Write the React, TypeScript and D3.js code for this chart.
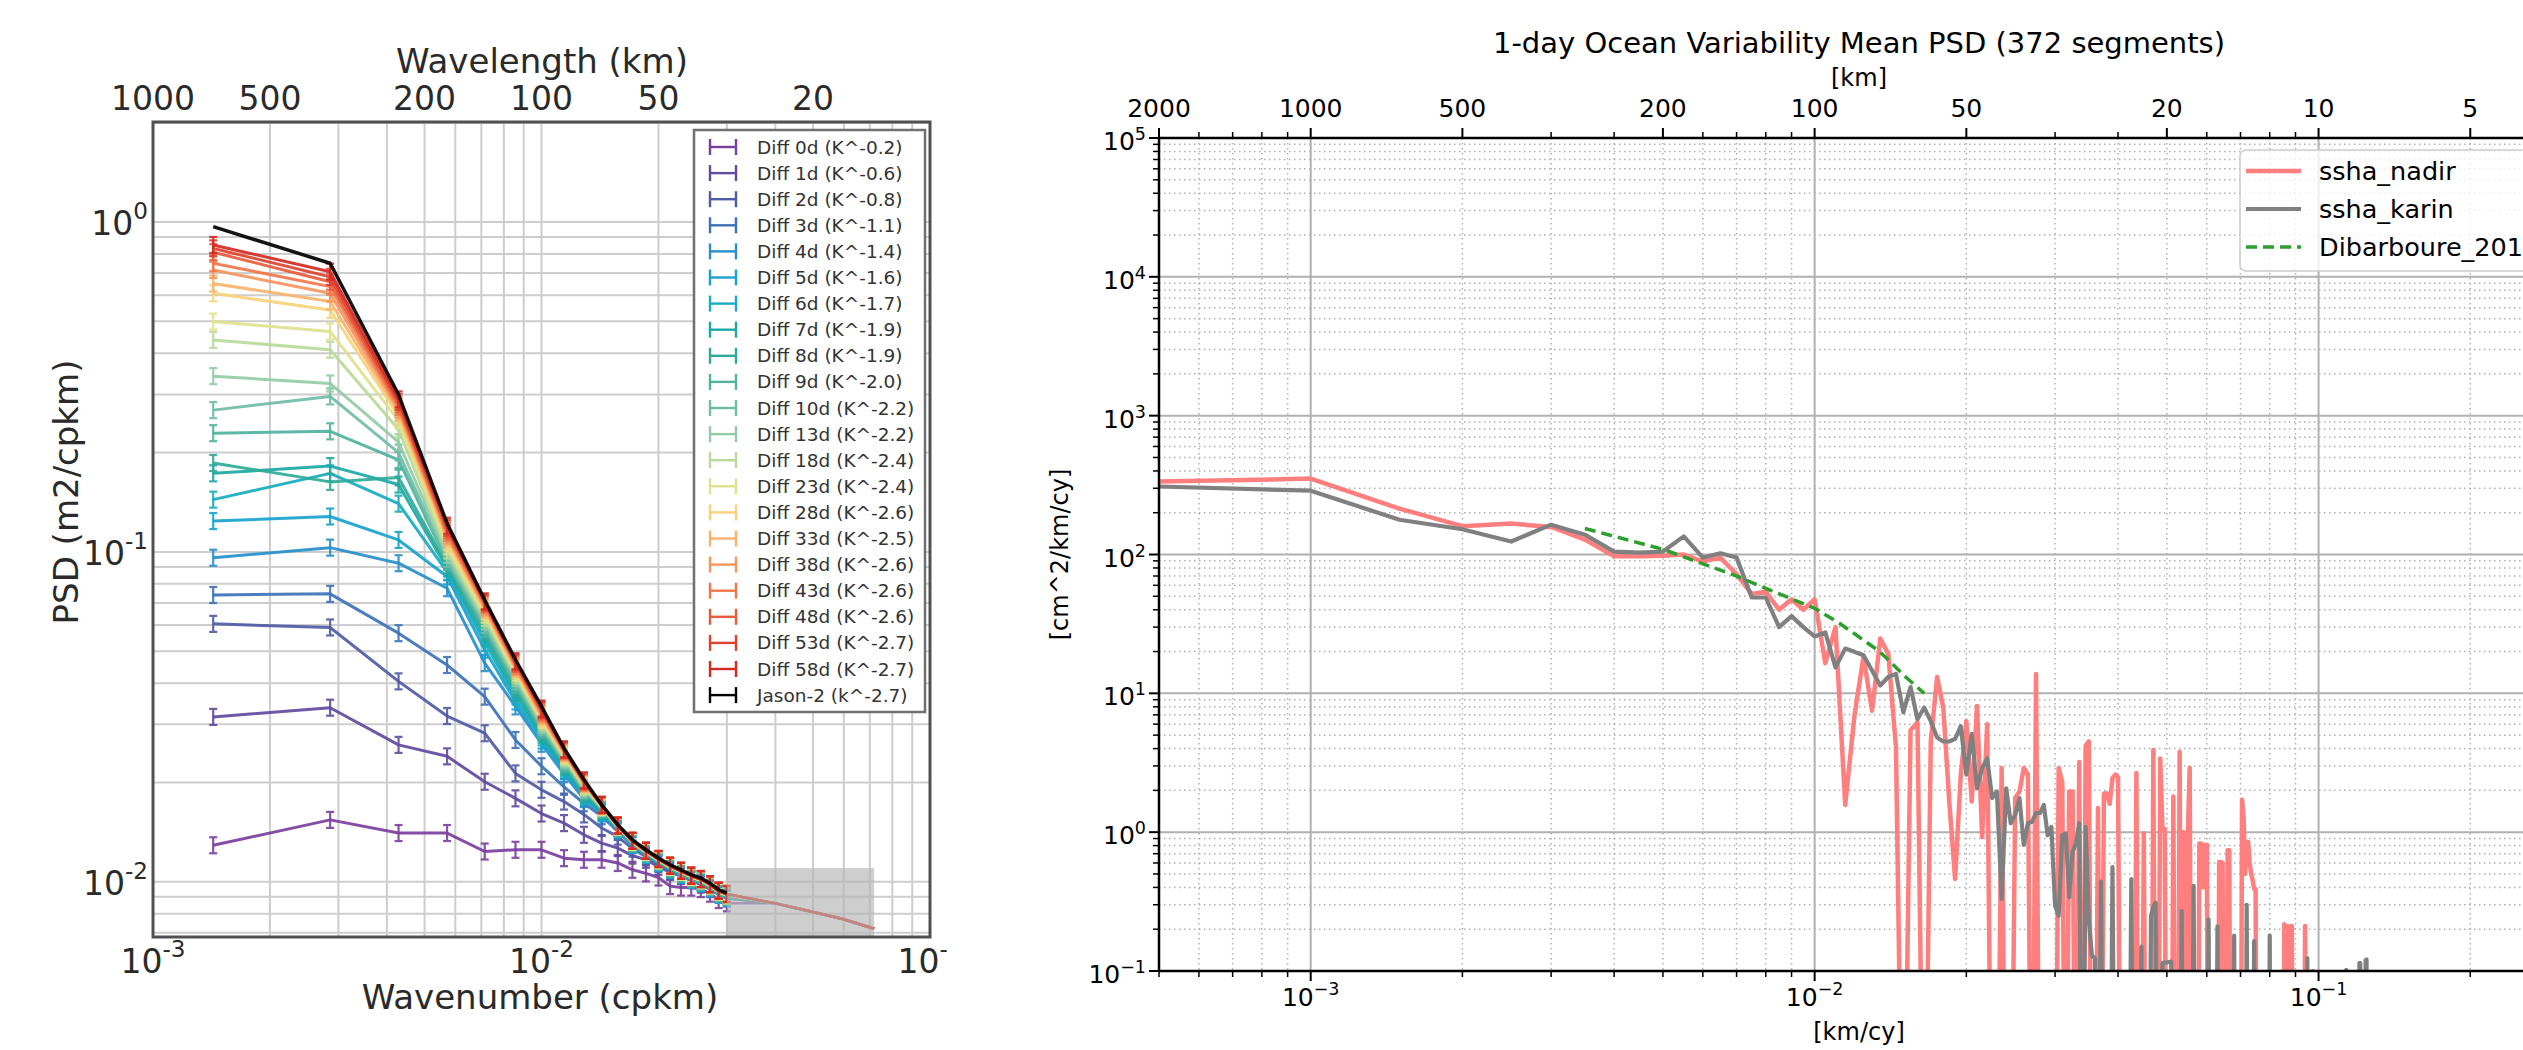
import React, { useEffect, useRef } from "react";
import * as d3 from "d3";

const W = 2523;
const H = 1050;

// ---------------- left panel: PSD of SSH differences ----------------
// wavenumber grid (cpkm): k / 700, k = 1..21
const leftFreq = d3.range(1, 22).map((k) => k / 700);

const leftNames = [
  "Diff 0d (K^-0.2)", "Diff 1d (K^-0.6)", "Diff 2d (K^-0.8)", "Diff 3d (K^-1.1)",
  "Diff 4d (K^-1.4)", "Diff 5d (K^-1.6)", "Diff 6d (K^-1.7)", "Diff 7d (K^-1.9)",
  "Diff 8d (K^-1.9)", "Diff 9d (K^-2.0)", "Diff 10d (K^-2.2)", "Diff 13d (K^-2.2)",
  "Diff 18d (K^-2.4)", "Diff 23d (K^-2.4)", "Diff 28d (K^-2.6)", "Diff 33d (K^-2.5)",
  "Diff 38d (K^-2.6)", "Diff 43d (K^-2.6)", "Diff 48d (K^-2.6)", "Diff 53d (K^-2.7)",
  "Diff 58d (K^-2.7)", "Jason-2 (k^-2.7)",
];

const leftColors = [
  "#7b3f9e", "#624a9e", "#4f5ba6", "#3d72b8", "#268fcc", "#18a3cf", "#16adc0",
  "#1aa9a6", "#2faa97", "#4fb39f", "#6fbda6", "#93cba6", "#b9da98", "#dfe28c",
  "#f6d37a", "#f8b46c", "#f5955c", "#f0774c", "#e85b3c", "#df412e", "#d42a22", "#000000",
];

const psd0d = [0.0129, 0.0154, 0.01405, 0.01405, 0.01235, 0.0125, 0.0125, 0.01179, 0.01166, 0.01166, 0.0114, 0.01087, 0.0106, 0.0103, 0.0097, 0.0096, 0.0096, 0.0095, 0.0092, 0.0088, 0.0086];
const psd1d = [0.0316, 0.0337, 0.026, 0.024, 0.0201, 0.0179, 0.0161, 0.01506, 0.01388, 0.0131, 0.01265, 0.012, 0.01166, 0.0111, 0.0107, 0.0104, 0.0101, 0.0098, 0.0095, 0.0092, 0.0089];
const psd2d = [0.0605, 0.059, 0.0405, 0.0318, 0.0282, 0.0213, 0.019, 0.0175, 0.016, 0.01455, 0.0137, 0.0126, 0.0119, 0.0113, 0.0108, 0.0105, 0.0102, 0.0099, 0.0096, 0.0092, 0.009];
const psd3d = [0.074, 0.0746, 0.0567, 0.0454, 0.0364, 0.0269, 0.0224, 0.0194, 0.0173, 0.0158, 0.0142, 0.0129, 0.0121, 0.0115, 0.011, 0.0106, 0.0103, 0.01, 0.0097, 0.0093, 0.0091];
const psd4d = [0.096, 0.103, 0.0924, 0.0776, 0.046, 0.034, 0.0262, 0.0212, 0.0178, 0.0161, 0.01438, 0.01293, 0.01206, 0.01139, 0.01087, 0.01049, 0.01013, 0.0099, 0.00955, 0.00913, 0.00892];
const psd5d = [0.124, 0.128, 0.1087, 0.0842, 0.0505, 0.0352, 0.0268, 0.0216, 0.018, 0.0162, 0.01438, 0.01293, 0.01206, 0.01139, 0.01087, 0.01049, 0.01013, 0.0099, 0.00955, 0.00913, 0.00892];
const psd6d = [0.144, 0.173, 0.14, 0.087, 0.053, 0.0364, 0.0274, 0.022, 0.0182, 0.0163, 0.01453, 0.01307, 0.01219, 0.0115, 0.01098, 0.0106, 0.01024, 0.01, 0.00965, 0.00922, 0.00901];
const psd7d = [0.173, 0.182, 0.16, 0.089, 0.055, 0.0375, 0.0279, 0.0223, 0.0184, 0.0164, 0.01453, 0.01307, 0.01219, 0.0115, 0.01098, 0.0106, 0.01024, 0.01, 0.00965, 0.00922, 0.00901];
const psd8d = [0.186, 0.163, 0.168, 0.091, 0.057, 0.0386, 0.0284, 0.0226, 0.0186, 0.0165, 0.01453, 0.01307, 0.01219, 0.0115, 0.01098, 0.0106, 0.01024, 0.01, 0.00965, 0.00922, 0.00901];
const psd9d = [0.229, 0.232, 0.19, 0.093, 0.0585, 0.0396, 0.0289, 0.0229, 0.0188, 0.0166, 0.01453, 0.01307, 0.01219, 0.0115, 0.01098, 0.0106, 0.01024, 0.01, 0.00965, 0.00922, 0.00901];
const psd10d = [0.269, 0.296, 0.2, 0.095, 0.06, 0.0405, 0.0294, 0.0232, 0.019, 0.0167, 0.0147, 0.0132, 0.01231, 0.01162, 0.01109, 0.01071, 0.01034, 0.01011, 0.00975, 0.00932, 0.0091];
const psd13d = [0.341, 0.324, 0.215, 0.098, 0.0615, 0.0414, 0.0299, 0.0235, 0.0192, 0.0168, 0.0147, 0.0132, 0.01231, 0.01162, 0.01109, 0.01071, 0.01034, 0.01011, 0.00975, 0.00932, 0.0091];
const psd18d = [0.439, 0.41, 0.235, 0.101, 0.063, 0.0422, 0.0304, 0.0238, 0.0194, 0.0168, 0.0147, 0.0132, 0.01231, 0.01162, 0.01109, 0.01071, 0.01034, 0.01011, 0.00975, 0.00932, 0.0091];
const psd23d = [0.499, 0.466, 0.25, 0.104, 0.0645, 0.043, 0.0309, 0.0241, 0.0196, 0.0169, 0.0147, 0.0132, 0.01231, 0.01162, 0.01109, 0.01071, 0.01034, 0.01011, 0.00975, 0.00932, 0.0091];
const psd28d = [0.608, 0.541, 0.258, 0.107, 0.066, 0.0437, 0.0313, 0.0243, 0.0197, 0.0169, 0.0148, 0.0133, 0.01241, 0.01172, 0.01118, 0.01079, 0.01043, 0.01019, 0.00983, 0.00939, 0.00918];
const psd33d = [0.651, 0.574, 0.265, 0.11, 0.067, 0.0443, 0.0317, 0.0245, 0.0198, 0.017, 0.0148, 0.0133, 0.01241, 0.01172, 0.01118, 0.01079, 0.01043, 0.01019, 0.00983, 0.00939, 0.00918];
const psd38d = [0.715, 0.608, 0.27, 0.112, 0.068, 0.0448, 0.0321, 0.0247, 0.0199, 0.017, 0.0148, 0.0133, 0.01241, 0.01172, 0.01118, 0.01079, 0.01043, 0.01019, 0.00983, 0.00939, 0.00918];
const psd43d = [0.75, 0.637, 0.275, 0.114, 0.069, 0.0453, 0.0325, 0.0249, 0.02, 0.017, 0.0148, 0.0133, 0.01241, 0.01172, 0.01118, 0.01079, 0.01043, 0.01019, 0.00983, 0.00939, 0.00918];
const psd48d = [0.81, 0.659, 0.28, 0.116, 0.0697, 0.0458, 0.0329, 0.025, 0.0201, 0.0171, 0.0148, 0.0133, 0.01241, 0.01172, 0.01118, 0.01079, 0.01043, 0.01019, 0.00983, 0.00939, 0.00918];
const psd53d = [0.832, 0.682, 0.285, 0.118, 0.0703, 0.0462, 0.0332, 0.0251, 0.0202, 0.0171, 0.0148, 0.0133, 0.01241, 0.01172, 0.01118, 0.01079, 0.01043, 0.01019, 0.00983, 0.00939, 0.00918];
const psd58d = [0.852, 0.707, 0.29, 0.12, 0.0708, 0.0466, 0.0335, 0.0252, 0.0203, 0.0171, 0.0148, 0.0133, 0.01241, 0.01172, 0.01118, 0.01079, 0.01043, 0.01019, 0.00983, 0.00939, 0.00918];
const psdJason = [0.968, 0.75, 0.3, 0.122, 0.0715, 0.0471, 0.034, 0.0254, 0.0204, 0.0171, 0.0149, 0.0134, 0.0125, 0.0118, 0.01126, 0.01087, 0.0105, 0.01026, 0.0099, 0.00946, 0.00924];

const leftSeries = [
  psd0d, psd1d, psd2d, psd3d, psd4d, psd5d, psd6d, psd7d, psd8d, psd9d, psd10d,
  psd13d, psd18d, psd23d, psd28d, psd33d, psd38d, psd43d, psd48d, psd53d, psd58d, psdJason,
];

// faint common continuation under the grey box
const leftTailFreq = [0.04, 0.05, 0.06, 0.0718];
const leftTailPsd = [0.0086, 0.0081, 0.0077, 0.0072];
// grey box: wavenumber range and upper psd
const leftBoxFreq = [0.03, 0.0718];
const leftBoxTop = 0.011;
const leftWavelengths = [1000, 500, 200, 100, 50, 20];

// ---------------- right panel: 1-day ocean variability ----------------
const df = 0.0005; // frequency step (cy/km)
const nadirPsd = [
  335, 352, 214, 160, 167, 158, 128, 97, 97, 98,
  100, 89, 95, 72, 52, 54, 40, 47.6, 40, 47.6,
  16.5, 30, 1.57, 7.0, 18.3, 7.5, 24.8, 19.3, 4.1, 0,
  5.4, 6.2, 0, 4.5, 13.1, 7.9, 1.66, 0.46, 2.6, 6.3,
  1.66, 8.1, 0.92, 6.0, 0, 0, 2.9, 0, 0, 1.76,
  1.96, 2.9, 2.6, 0, 13.8, 0, 0, 0, 0, 0,
  2.9, 2.3, 0, 1.96, 1.96, 0, 3.2, 0, 4.2, 4.5,
  0, 0, 1.49, 0, 1.9, 1.91, 1.6, 2.45, 2.6, 2.5,
  0, 0, 0, 0, 0, 0, 2.67, 0, 0, 0.98,
  0, 0, 0, 3.9, 0, 0, 3.4, 1.06, 1.06, 0,
  0, 0, 1.81, 0, 0, 3.8, 0, 1.0, 0, 0.9,
  2.9, 0, 0, 0, 0, 0.83, 0.83, 0.4, 0.81, 0.81,
  0, 0, 0, 0, 0, 0, 0.61, 0.61, 0.6, 0,
  0, 0.74, 0.74, 0, 0, 0, 0, 0, 0, 0,
  1.71, 1.3, 0.5, 0.85, 0.85, 0.6, 0.5, 0.45, 0.39, 0.39,
  0, 0, 0, 0, 0, 0, 0, 0, 0, 0,
  0, 0, 0, 0, 0, 0, 0, 0, 0, 0,
  0.217, 0, 0.21, 0.21, 0, 0, 0.211, 0, 0, 0,
  0, 0, 0, 0, 0, 0, 0, 0.211, 0, 0,
  0, 0, 0, 0, 0.1, 0, 0, 0, 0, 0,
];
const karinPsd = [
  309, 288, 178, 152, 124, 164, 139, 105, 103, 105,
  135, 95, 102, 95, 49, 49, 30, 36, 30, 25.7,
  27.5, 15.4, 21, 19.9, 18.8, 14.6, 11.4, 13.1, 13.8, 7.3,
  11.1, 6.5, 7.9, 6.3, 4.8, 4.5, 4.5, 4.7, 5.8, 2.6,
  5.1, 2.07, 2.9, 3.4, 1.76, 1.96, 0.33, 2.07, 1.16, 1.33,
  1.76, 0.81, 1.16, 1.19, 1.37, 1.37, 1.57, 0.95, 1.09, 0.295,
  0.25, 0.95, 0.98, 0.34, 0.72, 0.83, 1.16, 0, 1.09, 0.236,
  0.128, 0.124, 0, 0.44, 0, 0, 0, 0.56, 0, 0,
  0, 0, 0, 0, 0.46, 0, 0, 0, 0.15, 0,
  0, 0, 0.25, 0.29, 0.31, 0, 0, 0.114, 0.115, 0.115,
  0.116, 0.117, 0, 0, 0, 0, 0.27, 0, 0, 0,
  0, 0, 0.41, 0, 0, 0, 0, 0, 0, 0,
  0.236, 0, 0, 0, 0, 0.21, 0, 0, 0, 0,
  0, 0, 0, 0, 0, 0.18, 0, 0, 0, 0,
  0, 0, 0, 0.3, 0, 0, 0, 0, 0.164, 0,
  0, 0, 0, 0, 0, 0, 0, 0, 0, 0.18,
  0, 0, 0, 0, 0, 0, 0, 0, 0, 0,
  0, 0, 0, 0, 0, 0, 0, 0, 0, 0,
  0, 0, 0, 0, 0, 0, 0, 0, 0, 0.124,
  0, 0, 0, 0, 0, 0, 0, 0, 0, 0,
  0, 0, 0, 0, 0, 0, 0, 0, 0, 0,
  0, 0, 0, 0, 0, 0, 0, 0, 0, 0,
  0, 0, 0, 0, 0, 0, 0.102, 0, 0, 0,
  0, 0, 0, 0, 0, 0, 0, 0, 0, 0,
  0.114, 0.114, 0, 0, 0, 0, 0, 0.12, 0.121, 0,
];
const dibFreq = [0.0035, 0.005, 0.007, 0.008, 0.01, 0.0112, 0.01346, 0.0152, 0.0165];
const dibPsd = [154, 109, 70, 57, 41, 32, 20, 13, 10];
const rightWavelengths = [2000, 1000, 500, 200, 100, 50, 20, 10, 5];
const rightLegend = ["ssha_nadir", "ssha_karin", "Dibarboure_2016"];

function supLabel(g: any, x: number, y: number, exp: string, size: number, anchor: string, shift: number) {
  const t = g.append("text").attr("x", x).attr("y", y).attr("text-anchor", anchor).attr("font-size", size);
  t.append("tspan").text("10");
  t.append("tspan").attr("font-size", size * 0.7).attr("dy", -shift).text(exp);
  return t;
}

function logGrid(lo: number, hi: number) {
  const out: number[] = [];
  for (let e = -5; e <= 5; e++) {
    for (let m = 1; m <= 9; m++) {
      const v = +(m * Math.pow(10, e)).toPrecision(3);
      if (v >= lo * 0.999 && v <= hi * 1.001) out.push(v);
    }
  }
  return out;
}

function drawLeft(root: any) {
  const g = root.append("g").attr("clip-path", "url(#lclip)").attr("font-family", "'DejaVu Sans', sans-serif").attr("fill", "#2a2a2a");
  const x = d3.scaleLog().domain([1e-3, 1e-1]).range([153, 930]);
  const y = d3.scaleLog().domain([0.0068, 2.01]).range([937, 122]);

  // grid at every minor position
  g.append("g").selectAll("line").data(logGrid(1e-3, 1e-1)).join("line")
    .attr("x1", (d: number) => x(d)).attr("x2", (d: number) => x(d)).attr("y1", 122).attr("y2", 937)
    .attr("stroke", "#cdcdcd").attr("stroke-width", 2);
  g.append("g").selectAll("line").data(logGrid(0.0068, 2.01)).join("line")
    .attr("y1", (d: number) => y(d)).attr("y2", (d: number) => y(d)).attr("x1", 153).attr("x2", 930)
    .attr("stroke", "#cdcdcd").attr("stroke-width", 2);

  const line = d3.line<[number, number]>().x((d) => x(d[0])).y((d) => y(d[1]));

  // tails of the Diff series (mostly hidden under the grey box)
  leftSeries.slice(0, -1).forEach((vals, i) => {
    const pts: [number, number][] = [[leftFreq[20], vals[20]], ...leftTailFreq.map((f, j) => [f, leftTailPsd[j]] as [number, number])];
    g.append("path").attr("d", line(pts)).attr("fill", "none").attr("stroke", leftColors[i]).attr("stroke-width", 2.5).attr("opacity", 0.8);
  });

  // series with error-bar markers
  leftSeries.forEach((vals, i) => {
    const pts: [number, number][] = vals.map((v, j) => [leftFreq[j], v]);
    const c = leftColors[i];
    g.append("path").attr("d", line(pts)).attr("fill", "none").attr("stroke", c)
      .attr("stroke-width", i === leftSeries.length - 1 ? 3.5 : 3).attr("stroke-linejoin", "round").attr("opacity", 0.92);
    if (i < leftSeries.length - 1) {
      const eb = g.append("g").attr("stroke", c).attr("stroke-width", 2.2).attr("opacity", 0.9);
      pts.forEach((p) => {
        const px = x(p[0]);
        const py = y(p[1]);
        eb.append("line").attr("x1", px).attr("x2", px).attr("y1", py - 8).attr("y2", py + 8);
        eb.append("line").attr("x1", px - 4).attr("x2", px + 4).attr("y1", py - 8).attr("y2", py - 8);
        eb.append("line").attr("x1", px - 4).attr("x2", px + 4).attr("y1", py + 8).attr("y2", py + 8);
      });
    }
  });

  // grey box
  g.append("rect").attr("x", x(leftBoxFreq[0])).attr("y", y(leftBoxTop))
    .attr("width", x(leftBoxFreq[1]) - x(leftBoxFreq[0])).attr("height", 937 - y(leftBoxTop))
    .attr("fill", "#b4b4b4").attr("opacity", 0.65);

  // frame
  g.append("rect").attr("x", 153).attr("y", 122).attr("width", 777).attr("height", 815)
    .attr("fill", "none").attr("stroke", "#505050").attr("stroke-width", 3);

  // tick labels
  [-3, -2, -1].forEach((e) => supLabel(g, x(Math.pow(10, e)), 973, String(e), 33, "middle", 16));
  [0, -1, -2].forEach((e) => supLabel(g, 148, y(Math.pow(10, e)) + 13, String(e), 33, "end", 16));
  leftWavelengths.forEach((w) => {
    g.append("text").attr("x", x(1 / w)).attr("y", 110).attr("text-anchor", "middle").attr("font-size", 33).text(String(w));
  });
  g.append("text").attr("x", 542).attr("y", 73).attr("text-anchor", "middle").attr("font-size", 34).text("Wavelength (km)");
  g.append("text").attr("x", 540).attr("y", 1009).attr("text-anchor", "middle").attr("font-size", 34).text("Wavenumber (cpkm)");
  g.append("text").attr("transform", "translate(78,492) rotate(-90)").attr("text-anchor", "middle").attr("font-size", 34).text("PSD (m2/cpkm)");

  // legend
  const lg = g.append("g");
  lg.append("rect").attr("x", 694).attr("y", 130).attr("width", 231).attr("height", 582)
    .attr("fill", "#ffffff").attr("stroke", "#707070").attr("stroke-width", 2.5);
  leftNames.forEach((name, i) => {
    const cy = 147 + i * 26.1;
    const c = leftColors[i];
    const h = lg.append("g").attr("stroke", c).attr("stroke-width", 2.4);
    h.append("line").attr("x1", 709).attr("x2", 737).attr("y1", cy).attr("y2", cy);
    h.append("line").attr("x1", 710).attr("x2", 710).attr("y1", cy - 8).attr("y2", cy + 8);
    h.append("line").attr("x1", 736).attr("x2", 736).attr("y1", cy - 8).attr("y2", cy + 8);
    lg.append("text").attr("x", 757).attr("y", cy + 6.5).attr("font-size", 18.5).attr("fill", "#333").text(name);
  });
}

function drawRight(root: any) {
  const g = root.append("g").attr("font-family", "'DejaVu Sans', sans-serif").attr("fill", "#000");
  const L = 1159, R = 2559, T = 138, B = 971;
  const x = d3.scaleLog().domain([5e-4, 0.3]).range([L, R]);
  const y = d3.scaleLog().domain([0.1, 1e5]).range([B, T]);
  const xs = logGrid(5e-4, 0.3);
  const ys = logGrid(0.1, 1e5);
  const isDecade = (v: number) => Math.abs(Math.log10(v) - Math.round(Math.log10(v))) < 1e-6;

  // grids
  const grid = g.append("g").attr("stroke", "#b0b0b0");
  xs.forEach((v) => {
    grid.append("line").attr("x1", x(v)).attr("x2", x(v)).attr("y1", T).attr("y2", B)
      .attr("stroke-width", isDecade(v) ? 2 : 1.5).attr("stroke-dasharray", isDecade(v) ? null : "1.5,3.5");
  });
  ys.forEach((v) => {
    grid.append("line").attr("y1", y(v)).attr("y2", y(v)).attr("x1", L).attr("x2", R)
      .attr("stroke-width", isDecade(v) ? 2 : 1.5).attr("stroke-dasharray", isDecade(v) ? null : "1.5,3.5");
  });

  // data (values of 0 fall below the axis and are clipped)
  const floor = (v: number) => (v > 0 ? v : 1e-3);
  const line = d3.line<[number, number]>().x((d) => x(d[0])).y((d) => y(floor(d[1])));
  const plot = g.append("g").attr("clip-path", "url(#rclip)");
  plot.append("path").attr("d", line(nadirPsd.map((v, i) => [(i + 1) * df, v] as [number, number])))
    .attr("fill", "none").attr("stroke", "#ff7f7f").attr("stroke-width", 4.5).attr("stroke-linejoin", "round");
  plot.append("path").attr("d", line(karinPsd.map((v, i) => [(i + 1) * df, v] as [number, number])))
    .attr("fill", "none").attr("stroke", "#808080").attr("stroke-width", 4.2).attr("stroke-linejoin", "round");
  plot.append("path").attr("d", line(dibFreq.map((f, i) => [f, dibPsd[i]] as [number, number])))
    .attr("fill", "none").attr("stroke", "#2ca02c").attr("stroke-width", 3.5).attr("stroke-dasharray", "11,6");

  // spines
  const sp = g.append("g").attr("stroke", "#000").attr("stroke-width", 2.5);
  sp.append("line").attr("x1", L).attr("x2", L).attr("y1", T).attr("y2", B);
  sp.append("line").attr("x1", L).attr("x2", R).attr("y1", B).attr("y2", B);
  sp.append("line").attr("x1", L).attr("x2", R).attr("y1", T).attr("y2", T);

  // ticks
  const tk = g.append("g").attr("stroke", "#000");
  const topMajor = rightWavelengths.map((w) => 1 / w);
  xs.forEach((v) => {
    const bm = isDecade(v);
    tk.append("line").attr("x1", x(v)).attr("x2", x(v)).attr("y1", B).attr("y2", B + (bm ? 10 : 6)).attr("stroke-width", bm ? 2 : 1.5);
    const tm = topMajor.some((t) => Math.abs(t - v) / v < 1e-3);
    tk.append("line").attr("x1", x(v)).attr("x2", x(v)).attr("y1", T).attr("y2", T - (tm ? 10 : 6)).attr("stroke-width", tm ? 2 : 1.5);
  });
  ys.forEach((v) => {
    const m = isDecade(v);
    tk.append("line").attr("x1", L).attr("x2", L - (m ? 10 : 6)).attr("y1", y(v)).attr("y2", y(v)).attr("stroke-width", m ? 2 : 1.5);
  });

  // tick labels
  [-3, -2, -1].forEach((e) => supLabel(g, x(Math.pow(10, e)), 1006, "\u2212" + Math.abs(e), 25, "middle", 11));
  [-1, 0, 1, 2, 3, 4, 5].forEach((e) =>
    supLabel(g, 1146, y(Math.pow(10, e)) + 12, e < 0 ? "\u2212" + Math.abs(e) : String(e), 25, "end", 10)
  );
  rightWavelengths.forEach((w) => {
    g.append("text").attr("x", x(1 / w)).attr("y", 117).attr("text-anchor", "middle").attr("font-size", 25).text(String(w));
  });

  // titles
  g.append("text").attr("x", (L + R) / 2).attr("y", 53).attr("text-anchor", "middle").attr("font-size", 29)
    .text("1-day Ocean Variability Mean PSD (372 segments)");
  g.append("text").attr("x", (L + R) / 2).attr("y", 86).attr("text-anchor", "middle").attr("font-size", 24).text("[km]");
  g.append("text").attr("x", (L + R) / 2).attr("y", 1040).attr("text-anchor", "middle").attr("font-size", 24).text("[km/cy]");
  g.append("text").attr("transform", `translate(1068,${(T + B) / 2}) rotate(-90)`).attr("text-anchor", "middle")
    .attr("font-size", 24).text("[cm^2/km/cy]");

  // legend
  const lg = g.append("g");
  lg.append("rect").attr("x", 2240).attr("y", 150).attr("width", 340).attr("height", 121).attr("rx", 6)
    .attr("fill", "#ffffff").attr("fill-opacity", 0.8).attr("stroke", "#cccccc").attr("stroke-width", 1.5);
  const styles = [
    { c: "#ff7f7f", w: 4.5, dash: null },
    { c: "#808080", w: 4.2, dash: null },
    { c: "#2ca02c", w: 3.5, dash: "11,6" },
  ];
  rightLegend.forEach((name, i) => {
    const cy = 171 + i * 38;
    lg.append("line").attr("x1", 2246).attr("x2", 2301).attr("y1", cy).attr("y2", cy)
      .attr("stroke", styles[i].c).attr("stroke-width", styles[i].w).attr("stroke-dasharray", styles[i].dash);
    lg.append("text").attr("x", 2319).attr("y", cy + 9).attr("font-size", 25.5).text(name);
  });
}

export default function App() {
  const ref = useRef<SVGSVGElement>(null);
  useEffect(() => {
    const svg = d3.select(ref.current);
    svg.selectAll("*").remove();
    const defs = svg.append("defs");
    defs.append("clipPath").attr("id", "lclip").append("rect").attr("x", 0).attr("y", 0).attr("width", 950).attr("height", H);
    defs.append("clipPath").attr("id", "rclip").append("rect").attr("x", 1159).attr("y", 138).attr("width", 1400).attr("height", 833);
    drawLeft(svg.append("g"));
    drawRight(svg.append("g"));
  }, []);
  return (
    <div style={{ position: "fixed", left: 0, top: 0, width: W, height: H, overflow: "hidden", background: "#fff" }}>
      <svg ref={ref} width={W} height={H} style={{ display: "block" }} />
    </div>
  );
}
